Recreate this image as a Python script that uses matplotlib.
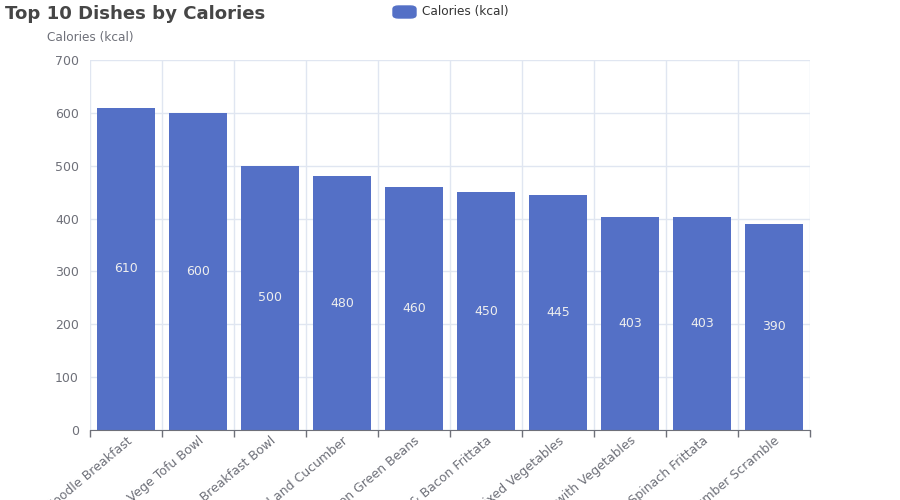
import matplotlib
matplotlib.use("Agg")
import matplotlib.pyplot as plt
from matplotlib.patches import FancyBboxPatch

# dish names are cut off at the bottom edge in the original chart
DISHES = [
    "Egg & Zoodle Breakfast",
    "Spicy Vege Tofu Bowl",
    "Quinoa Breakfast Bowl",
    "Salmon Salad and Cucumber",
    "Lemon Salmon Green Beans",
    "Potato & Bacon Frittata",
    "Tofu with Mixed Vegetables",
    "Omelette with Vegetables",
    "Mushroom Spinach Frittata",
    "Egg Cucumber Scramble",
]
CALORIES = [610, 600, 500, 480, 460, 450, 445, 403, 403, 390]
Y_TICKS = [0, 100, 200, 300, 400, 500, 600, 700]

BAR_COLOR = "#5470c6"
AXIS_GREY = "#6e7079"
GRID_COLOR = "#e0e6f1"

plt.rcParams["font.family"] = ["DejaVu Sans"]

fig = plt.figure(figsize=(9, 5), dpi=100)
ax = fig.add_axes([0.1, 0.14, 0.8, 0.74])

x = list(range(len(DISHES)))
bars = ax.bar(x, CALORIES, width=0.8, color=BAR_COLOR, zorder=3)

for rect, val in zip(bars, CALORIES):
    ax.text(rect.get_x() + rect.get_width() / 2, val / 2, str(val),
            ha="center", va="center", color="#eeeeee", fontsize=9, zorder=4)

ax.set_xlim(-0.5, len(DISHES) - 0.5)
ax.set_ylim(0, 700)
ax.set_yticks(Y_TICKS)

# category labels at centers, tick marks at band edges
ax.set_xticks(x)
ax.set_xticklabels(DISHES, rotation=40, ha="right", rotation_mode="anchor",
                   color=AXIS_GREY, fontsize=9)
ax.set_xticks([i - 0.5 for i in range(len(DISHES) + 1)], minor=True)
ax.tick_params(axis="x", which="major", length=0, pad=3)
ax.tick_params(axis="x", which="minor", length=5, color=AXIS_GREY, width=1)
ax.tick_params(axis="y", length=0, labelcolor=AXIS_GREY, labelsize=9, pad=8)

ax.grid(axis="y", color=GRID_COLOR, linewidth=1, zorder=0)
ax.grid(axis="x", which="minor", color=GRID_COLOR, linewidth=1, zorder=0)

for side in ["top", "right", "left"]:
    ax.spines[side].set_visible(False)
ax.spines["bottom"].set_color(AXIS_GREY)
ax.spines["bottom"].set_zorder(5)

# axis name above the y axis
fig.text(47 / 900, 1 - 38 / 500, "Calories (kcal)", color=AXIS_GREY,
         fontsize=8.7, ha="left", va="center")

# title
fig.text(5 / 900, 1 - 14 / 500, "Top 10 Dishes by Calories", color="#464646",
         fontsize=13.1, fontweight="bold", ha="left", va="center")

# legend
fig.patches.append(FancyBboxPatch((393 / 900, 1 - 18 / 500), 23 / 900, 12 / 500,
                                  boxstyle="round,pad=0,rounding_size=0.006",
                                  transform=fig.transFigure, color=BAR_COLOR))
fig.text(422 / 900, 1 - 12 / 500, "Calories (kcal)", color="#333333",
         fontsize=8.7, ha="left", va="center")

fig.savefig("out.png", dpi=100)
